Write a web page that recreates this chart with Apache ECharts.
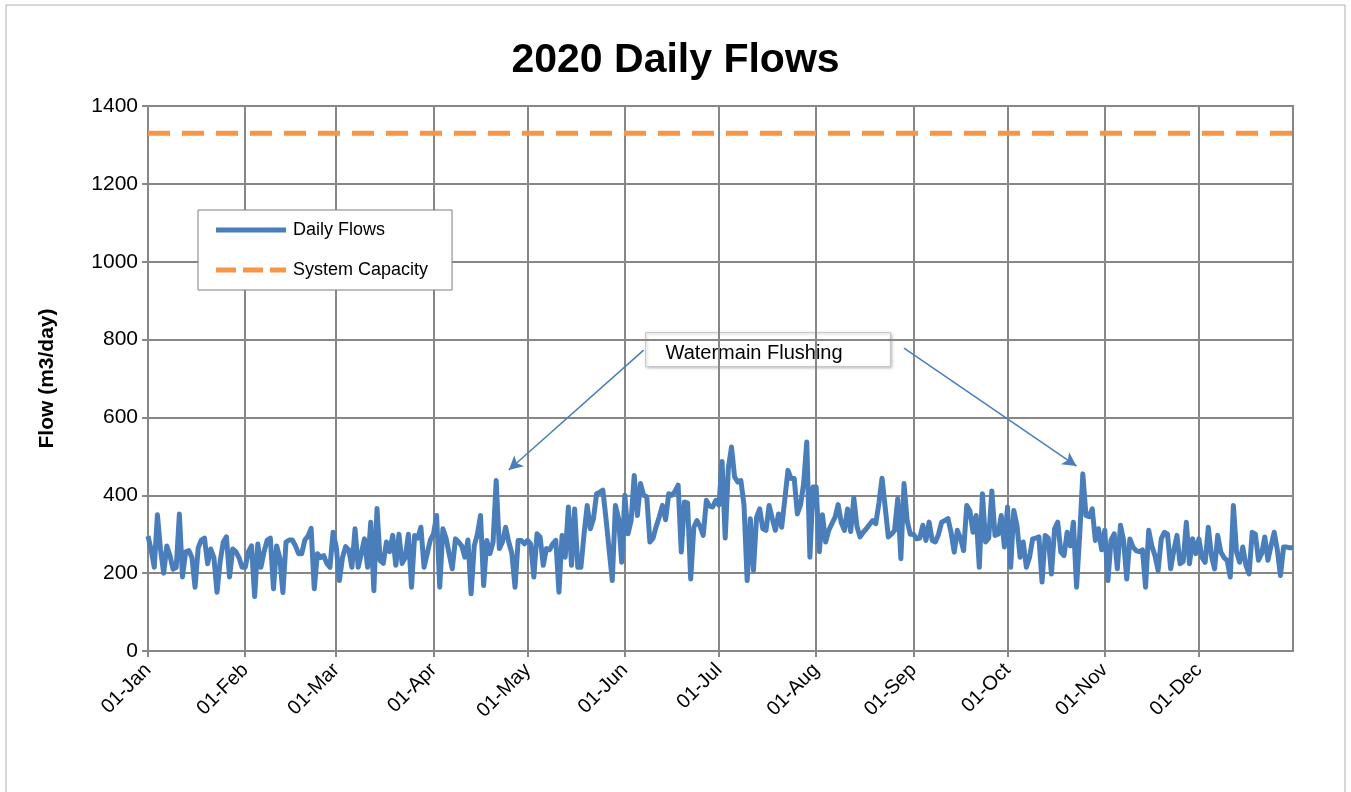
<!DOCTYPE html>
<html>
<head>
<meta charset="utf-8">
<title>2020 Daily Flows</title>
<script src="https://cdn.jsdelivr.net/npm/echarts@6/dist/echarts.min.js"></script>
<style>
  html, body { margin: 0; padding: 0; background: #fff; }
  #main { width: 1351px; height: 792px; }
</style>
</head>
<body>
<div id="main"></div>
<script>
// month names and lengths (2020 is a leap year)
var monthNames = ['Jan', 'Feb', 'Mar', 'Apr', 'May', 'Jun', 'Jul', 'Aug', 'Sep', 'Oct', 'Nov', 'Dec'];
var monthDays = [31, 29, 31, 30, 31, 30, 31, 31, 30, 31, 30, 31];
var yTicks = [0, 200, 400, 600, 800, 1000, 1200, 1400];

// daily flows, m3/day, one array per month
var jan = [295, 260, 215, 350, 260, 200, 270, 245, 210, 215, 352, 190, 255, 258, 240, 164, 265, 285, 290, 224, 262, 240, 151, 230, 280, 293, 190, 262, 255, 240, 215];
var feb = [215, 255, 270, 140, 275, 215, 255, 285, 290, 160, 270, 240, 150, 280, 285, 285, 270, 250, 250, 285, 295, 315, 160, 250, 240, 245, 225, 215, 305];
var mar = [268, 181, 240, 268, 260, 215, 314, 215, 250, 288, 215, 331, 155, 366, 232, 225, 280, 255, 297, 220, 300, 225, 240, 300, 164, 297, 290, 318, 215, 250, 285];
var apr = [300, 348, 164, 314, 290, 250, 211, 288, 280, 270, 241, 285, 147, 270, 300, 348, 168, 284, 250, 280, 438, 263, 280, 318, 280, 250, 164, 284, 284, 275];
var may = [284, 275, 190, 301, 293, 220, 263, 260, 275, 284, 151, 297, 241, 370, 220, 365, 215, 215, 300, 374, 314, 340, 404, 408, 413, 340, 260, 181, 374, 340, 228];
var jun = [400, 301, 335, 451, 348, 430, 400, 396, 280, 290, 320, 345, 374, 337, 404, 400, 410, 426, 254, 383, 380, 185, 318, 335, 320, 297, 387, 372, 370, 387];
var jul = [375, 487, 290, 470, 524, 447, 434, 438, 374, 181, 340, 207, 344, 365, 314, 310, 374, 340, 310, 352, 318, 390, 464, 443, 443, 352, 375, 430, 537, 241, 421];
var aug = [421, 255, 350, 280, 310, 327, 343, 376, 330, 310, 365, 307, 393, 320, 293, 305, 314, 325, 335, 327, 380, 444, 369, 293, 300, 310, 391, 237, 430, 335, 300];
var sep = [300, 288, 290, 323, 284, 331, 284, 280, 300, 331, 335, 340, 305, 254, 310, 290, 258, 374, 360, 305, 348, 215, 404, 280, 290, 411, 297, 300, 348, 267];
var oct = [370, 215, 361, 323, 241, 280, 215, 240, 288, 290, 293, 177, 297, 290, 198, 314, 331, 254, 245, 305, 270, 331, 164, 297, 455, 348, 345, 365, 284, 314, 260];
var nov = [310, 181, 285, 301, 211, 323, 284, 185, 288, 267, 258, 255, 260, 164, 310, 270, 245, 207, 288, 305, 300, 211, 258, 297, 224, 230, 331, 224, 288, 250];
var dec = [288, 240, 228, 318, 245, 211, 297, 254, 240, 233, 190, 374, 254, 228, 267, 220, 198, 305, 300, 233, 250, 293, 233, 270, 305, 260, 194, 267, 267, 265, 265];

var systemCapacity = 1330;

// arrow ends for the "Watermain Flushing" note: [dayIndex, flow]
var flushArrows = [
    [[158, 773], [115, 465]],
    [[241, 778], [296, 475]]
];

var dailyFlows = [].concat(jan, feb, mar, apr, may, jun, jul, aug, sep, oct, nov, dec);

// build day labels like 01-Jan and remember which are month starts
var days = [];
var monthStart = {};
for (var m = 0; m < 12; m++) {
    for (var d = 1; d <= monthDays[m]; d++) {
        if (d == 1) monthStart[days.length] = true;
        days.push((d < 10 ? '0' + d : '' + d) + '-' + monthNames[m]);
    }
}
var capacityLine = days.map(function () { return systemCapacity; });

var isMonthStart = function (idx) { return !!monthStart[idx]; };
var gridGray = '#878787';
var blue = '#4a7ebb';
var orange = '#f79646';
var font = 'Liberation Sans';

var myChart = echarts.init(document.getElementById('main'));
var option = {
    animation: false,
    backgroundColor: '#fff',
    textStyle: { fontFamily: font },
    title: {
        text: '2020 Daily Flows',
        left: 'center',
        top: 35,
        textStyle: { fontSize: 41, fontWeight: 'bold', color: '#000', fontFamily: font }
    },
    legend: {
        orient: 'vertical',
        left: 198,
        top: 210,
        padding: [11, 24, 11, 18],
        itemGap: 22,
        itemWidth: 70,
        itemHeight: 5,
        backgroundColor: '#fff',
        borderColor: '#7f7f7f',
        borderWidth: 1,
        textStyle: { fontSize: 18, color: '#000', fontFamily: font, padding: [0, 0, 0, 2] },
        data: [
            { name: 'Daily Flows', icon: 'path://M0,0h70v5h-70z', itemStyle: { color: blue } },
            { name: 'System Capacity', icon: 'path://M0,0h20v5h-20z M27,0h20v5h-20z M54,0h16v5h-16z', itemStyle: { color: orange } }
        ]
    },
    grid: {
        left: 148,
        right: 58,
        top: 106,
        bottom: 141,
        show: true,
        borderColor: gridGray,
        borderWidth: 2
    },
    xAxis: {
        type: 'category',
        data: days,
        boundaryGap: false,
        axisLine: { lineStyle: { color: gridGray, width: 2 } },
        axisTick: { show: true, interval: isMonthStart, length: 6, lineStyle: { color: gridGray, width: 2 } },
        splitLine: { show: true, interval: isMonthStart, lineStyle: { color: gridGray, width: 2 } },
        axisLabel: {
            interval: isMonthStart,
            rotate: 45,
            fontSize: 20,
            color: '#000',
            margin: 16,
            fontFamily: font
        }
    },
    yAxis: {
        type: 'value',
        min: yTicks[0],
        max: yTicks[yTicks.length - 1],
        interval: 200,
        name: 'Flow (m3/day)',
        nameLocation: 'middle',
        nameGap: 90,
        nameTextStyle: { fontSize: 21, fontWeight: 'bold', color: '#000', fontFamily: font },
        axisLine: { show: true, lineStyle: { color: gridGray, width: 2 } },
        axisTick: { show: true, length: 6, lineStyle: { color: gridGray, width: 2 } },
        splitLine: { lineStyle: { color: gridGray, width: 2 } },
        axisLabel: {
            fontSize: 21, color: '#000', margin: 10, fontFamily: font,
            formatter: function (v) { return String(v); }
        }
    },
    series: [
        {
            name: 'Daily Flows',
            type: 'line',
            data: dailyFlows,
            symbol: 'none',
            lineStyle: { color: blue, width: 5, join: 'round' },
            itemStyle: { color: blue },
            z: 3,
            markLine: {
                silent: true,
                symbol: ['none', 'arrow'],
                symbolSize: [11, 14],
                label: { show: false },
                lineStyle: { color: blue, width: 1.5, type: 'solid' },
                data: flushArrows.map(function (a) {
                    return [{ coord: a[0] }, { coord: a[1] }];
                })
            }
        },
        {
            name: 'System Capacity',
            type: 'line',
            data: capacityLine,
            symbol: 'none',
            lineStyle: { color: orange, width: 5, type: [22, 12] },
            itemStyle: { color: orange },
            z: 2
        }
    ],
    graphic: [
        {
            type: 'rect',
            shape: { x: 6, y: 5, width: 1339, height: 820 },
            style: { fill: 'none', stroke: '#b0b0b0', lineWidth: 1 },
            silent: true
        },
        {
            type: 'group',
            left: 645,
            top: 332,
            z: 10,
            children: [
                {
                    type: 'rect',
                    shape: { x: 0, y: 0, width: 245, height: 34 },
                    style: { fill: '#fff', stroke: '#c8c8c8', lineWidth: 1, shadowBlur: 3, shadowColor: 'rgba(0,0,0,0.25)', shadowOffsetX: 1, shadowOffsetY: 1 }
                },
                {
                    type: 'text',
                    x: 20,
                    y: 21,
                    style: { text: 'Watermain Flushing', fontSize: 20, fontFamily: font, fill: '#000', verticalAlign: 'middle' }
                }
            ]
        }
    ]
};

myChart.setOption(option, true);
</script>
</body>
</html>
